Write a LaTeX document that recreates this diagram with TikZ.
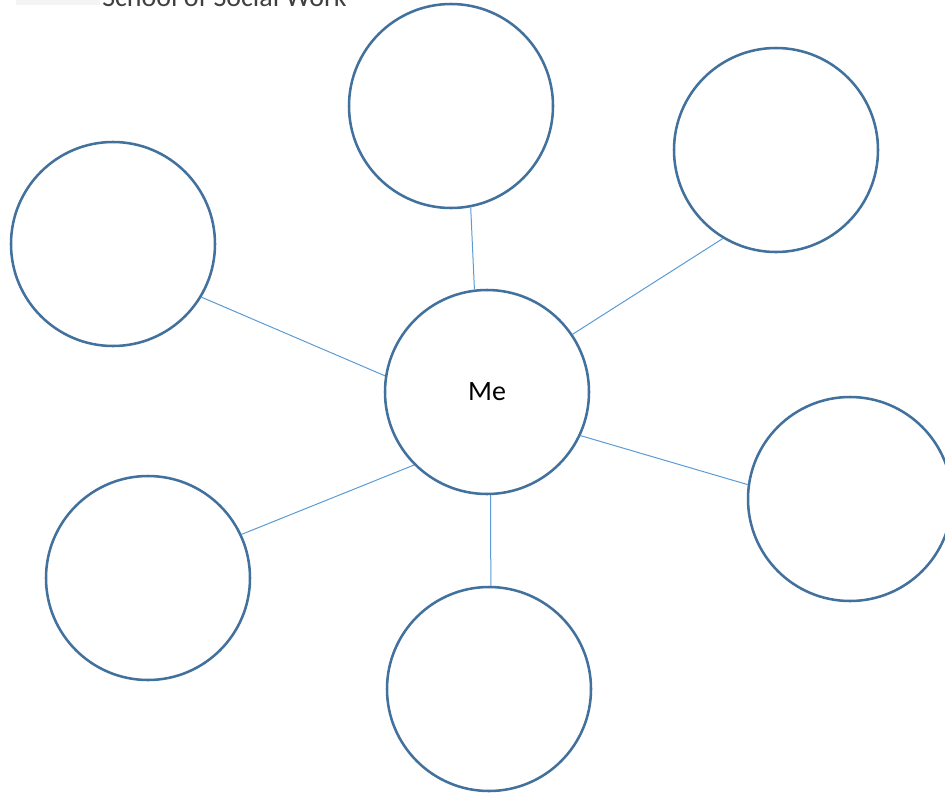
\documentclass[tikz,border=0pt]{standalone}
\usepackage{fontspec}
\setmainfont{Carlito}
\definecolor{ringblue}{HTML}{41719C}
\definecolor{linkblue}{HTML}{5B9BD5}
\definecolor{headgrey}{HTML}{404040}
\definecolor{barlight}{HTML}{F4F4F4}
\begin{document}
\begin{tikzpicture}[x=0.75pt,y=-0.75pt,
  bubble/.style={circle,draw=ringblue,line width=1.9pt,minimum size=153pt,inner sep=0pt,fill=white},
  link/.style={draw=linkblue,line width=0.75pt}]
\useasboundingbox (0,0) rectangle (945,792);
\clip (0,0) rectangle (945,792);
\fill[barlight] (16,0) rectangle (100,5);
\node[anchor=base west,text=headgrey,font=\fontsize{21}{25}\selectfont,inner sep=0pt] (hdr) at (102,7) {School of Social Work};
\node[bubble,font=\fontsize{21}{25}\selectfont] (me) at (487,392) {Me};
\node[bubble] (top) at (451,106) {};
\node[bubble] (tr) at (776,150) {};
\node[bubble] (left) at (113,244) {};
\node[bubble] (right) at (850,499) {};
\node[bubble] (bl) at (148,578) {};
\node[bubble] (bot) at (489,689) {};
\draw[link] (me.97) -- (top.281);
\draw[link] (me.34) -- (tr.239);
\draw[link] (me.171) -- (left.329);
\draw[link] (me.225) -- (bl.25);
\draw[link] (me.272) -- (bot.89);
\draw[link] (me.335) -- (right.172);
\end{tikzpicture}
\end{document}
